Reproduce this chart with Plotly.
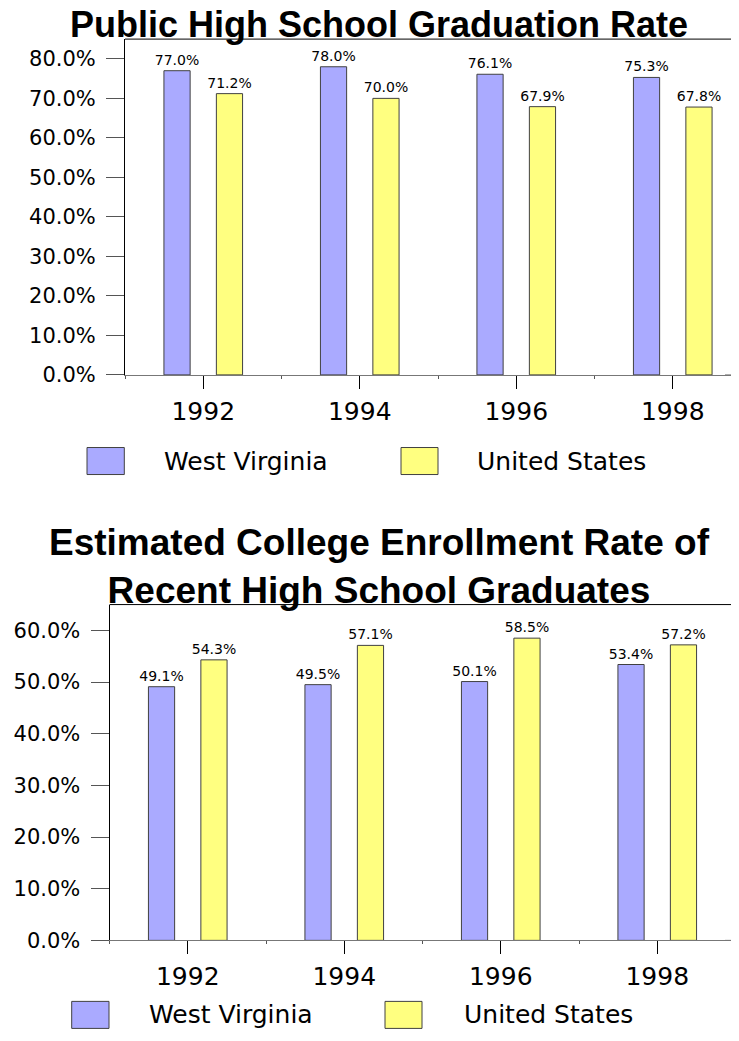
import plotly.graph_objects as go

# ── data ────────────────────────────────────────────────────────────────────
years = ["1992", "1994", "1996", "1998"]
series_names = ["West Virginia", "United States"]

grad_wv = [77.0, 78.0, 76.1, 75.3]
grad_us = [71.2, 70.0, 67.9, 67.8]

college_wv = [49.1, 49.5, 50.1, 53.4]
college_us = [54.3, 57.1, 58.5, 57.2]

title_top = "Public High School Graduation Rate"
title_bottom = "Estimated College Enrollment Rate of<br>Recent High School Graduates"

# ── style ───────────────────────────────────────────────────────────────────
PAGE_W, PAGE_H = 739, 1041
PAD = 8                      # default body margin of the html page
W, H = PAGE_W - 2 * PAD, PAGE_H - 2 * PAD
SY = 0.988                   # the snapshot comes out slightly squeezed vertically
C_WV = "#AAAAFF"
C_US = "#FFFF80"
C_EDGE = "#404040"
BODY = "DejaVu Sans, Verdana, sans-serif"
HEAD = "Arial, Liberation Sans, sans-serif"


# target pixel -> paper fraction
def px(x):
    return (x - PAD) / W


def py(y):
    return 1 - (y / SY - PAD) / H


CAT = 156.5                  # category pitch in px
x1_dom = [px(125), 1.0]
x1_rng = [-0.5, -0.5 + (PAGE_W - PAD - 125) / CAT]
x2_dom = [px(109.5), 1.0]
x2_rng = [-0.5, -0.5 + (PAGE_W - PAD - 109.5) / CAT]

fig = go.Figure()

for xa, ya, wv, us in (("x", "y", grad_wv, grad_us), ("x2", "y2", college_wv, college_us)):
    for name, vals, col in ((series_names[0], wv, C_WV), (series_names[1], us, C_US)):
        fig.add_trace(go.Bar(
            x=years, y=vals, name=name,
            xaxis=xa, yaxis=ya,
            marker=dict(color=col, line=dict(color=C_EDGE, width=1)),
            texttemplate="%{y:.1f}%",
            textposition="outside",
            constraintext="none",
            textfont=dict(family=BODY, size=14, color="black"),
            cliponaxis=False,
            showlegend=False,
            hovertemplate=name + " %{x}: %{y:.1f}%<extra></extra>",
        ))

# empty carriers so the overlay axes get their category-boundary ticks
for xa, ya in (("x3", "y"), ("x4", "y2")):
    fig.add_trace(go.Scatter(x=years, y=[None] * len(years), xaxis=xa, yaxis=ya,
                             mode="markers", showlegend=False, hoverinfo="skip"))

yax = dict(
    showgrid=False, zeroline=False,
    showline=True, linecolor="black", linewidth=1,
    ticks="outside", ticklen=18, tickcolor="#555", tickwidth=1,
    dtick=10, tickformat=".1f", ticksuffix="%",
    tickfont=dict(family=BODY, size=21, color="black"),
    ticklabelstandoff=6,
)
xax = dict(
    type="category", categoryorder="array", categoryarray=years,
    showgrid=False, zeroline=False,
    showline=True, linecolor="#777", linewidth=1,
    ticks="outside", ticklen=13, tickcolor="black", tickwidth=1,
    tickfont=dict(family=BODY, size=25, color="black"),
    ticklabelstandoff=1,
)
bnd = dict(
    type="category", categoryorder="array", categoryarray=years,
    showgrid=False, zeroline=False, showline=False,
    tickson="boundaries", ticks="outside", ticklen=3,
    tickcolor="#555", showticklabels=False,
)

fig.update_layout(
    width=W, height=H,
    margin=dict(l=0, r=0, t=0, b=0),
    paper_bgcolor="white", plot_bgcolor="white",
    barmode="group", bargap=0.33, bargroupgap=0.5,
    xaxis=dict(xax, domain=x1_dom, range=x1_rng, anchor="y"),
    yaxis=dict(yax, domain=[py(374.7), py(39)], range=[0, 85], anchor="x"),
    xaxis2=dict(xax, domain=x2_dom, range=x2_rng, anchor="y2"),
    yaxis2=dict(yax, domain=[py(940), py(604.3)], range=[0, 65], anchor="x2"),
    xaxis3=dict(bnd, domain=x1_dom, range=x1_rng, overlaying="x", anchor="y"),
    xaxis4=dict(bnd, domain=x2_dom, range=x2_rng, overlaying="x2", anchor="y2"),
)

# frame lines: top rule of the upper panel runs off the page,
# the lower panel is closed on the right
fig.add_shape(type="line", xref="paper", yref="y domain",
              x0=px(125), x1=px(PAGE_W), y0=1, y1=1, line=dict(color="black", width=1))
fig.add_shape(type="line", xref="paper", yref="y domain",
              x0=px(725), x1=px(PAGE_W), y0=0, y1=0, line=dict(color="#777", width=1))
fig.add_shape(type="path", xref="paper", yref="y2 domain",
              path=f"M {px(109.5)} 1 L {px(737)} 1 L {px(737)} 0",
              line=dict(color="black", width=1))
fig.add_shape(type="line", xref="paper", yref="y2 domain",
              x0=px(725), x1=px(737), y0=0, y1=0, line=dict(color="#777", width=1))

# titles
fig.add_annotation(text=f"<b>{title_top}</b>", xref="paper", yref="paper",
                   x=px(379.5), y=py(2), xanchor="center", yanchor="top",
                   showarrow=False, font=dict(family=HEAD, size=36, color="black"))
fig.add_annotation(text=f"<b>{title_bottom}</b>", xref="paper", yref="paper",
                   x=px(379.5), y=py(566), xanchor="center", yanchor="middle",
                   showarrow=False, font=dict(family=HEAD, size=37, color="black"))

# legends (large swatches as in the original); the lower one is lifted a
# little so that it stays inside the snapshot
legend_rows = [
    # WV swatch x, US swatch x, WV text x, US text x, swatch top, swatch bottom
    ((87, 124.3), (401, 438), 161.7, 475, 447.3, 474.3),
    ((71.7, 109), (385, 422), 146.7, 462, 1001, 1028),
]
for (wx0, wx1), (ux0, ux1), wt, ut, top, bot in legend_rows:
    for (x0, x1), tx, col, name in (((wx0, wx1), wt, C_WV, series_names[0]),
                                     ((ux0, ux1), ut, C_US, series_names[1])):
        fig.add_shape(type="rect", xref="paper", yref="paper",
                      x0=px(x0), x1=px(x1), y0=py(bot), y1=py(top),
                      fillcolor=col, line=dict(color=C_EDGE, width=1))
        fig.add_annotation(text=name, xref="paper", yref="paper",
                           x=px(tx), y=py((top + bot) / 2), xanchor="left", yanchor="middle",
                           showarrow=False, font=dict(family=BODY, size=25, color="black"))

fig.write_html("out.html", config={"displayModeBar": False})
